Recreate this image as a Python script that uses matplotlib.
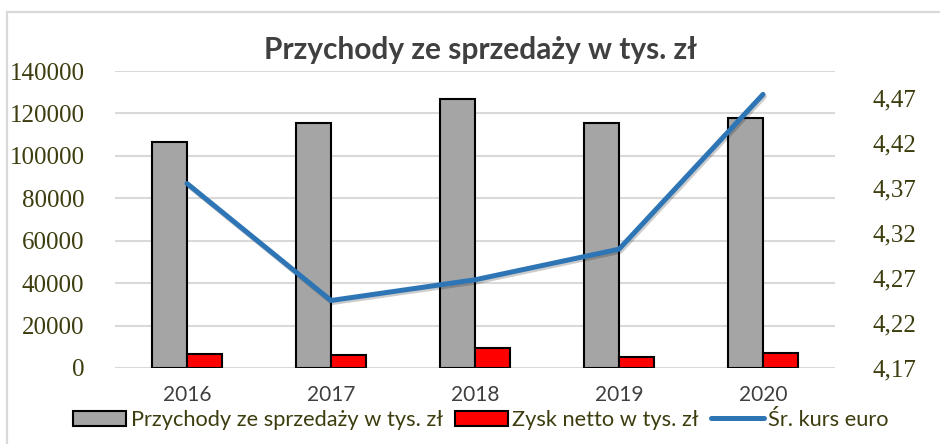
import numpy as np
import matplotlib
matplotlib.use("Agg")
import matplotlib.pyplot as plt
import matplotlib.patches as mpatches
import matplotlib.patheffects as pe
from matplotlib.lines import Line2D
from matplotlib.ticker import FuncFormatter

# data
years = ["2016", "2017", "2018", "2019", "2020"]
revenue = [106400, 115700, 126900, 115500, 118000]   # Przychody ze sprzedaży w tys. zł
profit = [6450, 6150, 9300, 5350, 7200]              # Zysk netto w tys. zł
euro = [4.375, 4.245, 4.268, 4.302, 4.474]           # Śr. kurs euro

left_ticks = [0, 20000, 40000, 60000, 80000, 100000, 120000, 140000]
right_ticks = [4.17, 4.22, 4.27, 4.32, 4.37, 4.42, 4.47]

sans = ["Lato", "DejaVu Sans"]
serif = ["Liberation Serif", "DejaVu Serif"]
olive = "#3d3d0f"
grey_txt = "#404040"
grid_c = "#d9d9d9"

fig = plt.figure(figsize=(9.4, 4.44), dpi=100)
W, H = 940.0, 444.0

# light chart frame
frame = mpatches.Rectangle((7 / W, -0.05), 1.1, 1.05 - 12.5 / H,
                           transform=fig.transFigure, fill=False,
                           edgecolor=grid_c, lw=1.6, clip_on=False)
fig.patches.append(frame)

ax = fig.add_axes([115 / W, 1 - 368 / H, 720 / W, 297 / H])
ax2 = ax.twinx()

x = np.arange(len(years))
bw = 0.2465

ax.bar(x - bw / 2, revenue, bw, color="#a5a5a5", edgecolor="black", lw=1.5, zorder=3)
ax.bar(x + bw / 2, profit, bw, color="#ff0000", edgecolor="black", lw=1.5, zorder=3)

ax.set_xlim(-0.5, len(years) - 0.5)
ax.set_ylim(0, 140000)
ax.set_yticks(left_ticks)
ax.yaxis.grid(True, color=grid_c, lw=1.5, zorder=0)
ax.set_axisbelow(True)
ax.set_xticks(x)
ax.set_xticklabels(years, family=sans, fontsize=15, color=grey_txt)
ax.tick_params(axis="x", length=0, pad=12)
ax.tick_params(axis="y", length=0, pad=22, labelsize=18, labelcolor=olive)
for lab in ax.get_yticklabels():
    lab.set_family(serif)

ax2.plot(x, euro, color="#2e75b6", lw=3.6, solid_capstyle="round",
         solid_joinstyle="round", zorder=5,
         path_effects=[pe.SimpleLineShadow(offset=(1, -1.5), alpha=0.2),
                       pe.Normal()])
ax2.set_ylim(4.17, 4.50)
ax2.set_yticks(right_ticks)
ax2.yaxis.set_major_formatter(FuncFormatter(lambda v, p: ("%.2f" % v).replace(".", ",")))
ax2.tick_params(axis="y", length=0, pad=27, labelsize=18, labelcolor=olive)
for lab in ax2.get_yticklabels():
    lab.set_family(serif)

for a in (ax, ax2):
    for s in a.spines.values():
        s.set_visible(False)

fig.text(481 / W, 1 - 59 / H, "Przychody ze sprzedaży w tys. zł", ha="center",
         va="baseline", family=sans, fontsize=21.5, fontweight="bold", color=grey_txt)

handles = [
    mpatches.Patch(facecolor="#a5a5a5", edgecolor="black", lw=1.5),
    mpatches.Patch(facecolor="#ff0000", edgecolor="black", lw=1.5),
    Line2D([0], [0], color="#2e75b6", lw=3.6, solid_capstyle="round"),
]
labels = ["Przychody ze sprzedaży w tys. zł", "Zysk netto w tys. zł", "Śr. kurs euro"]
leg = fig.legend(handles, labels, loc="center", bbox_to_anchor=(481 / W, 1 - 420 / H),
                 ncol=3, frameon=False, prop={"family": sans, "size": 15.7},
                 handlelength=2.43, handleheight=0.69, handletextpad=0.2,
                 columnspacing=0.55, borderpad=0, borderaxespad=0)
for t in leg.get_texts():
    t.set_color(olive)

fig.savefig("out.png", dpi=100)
